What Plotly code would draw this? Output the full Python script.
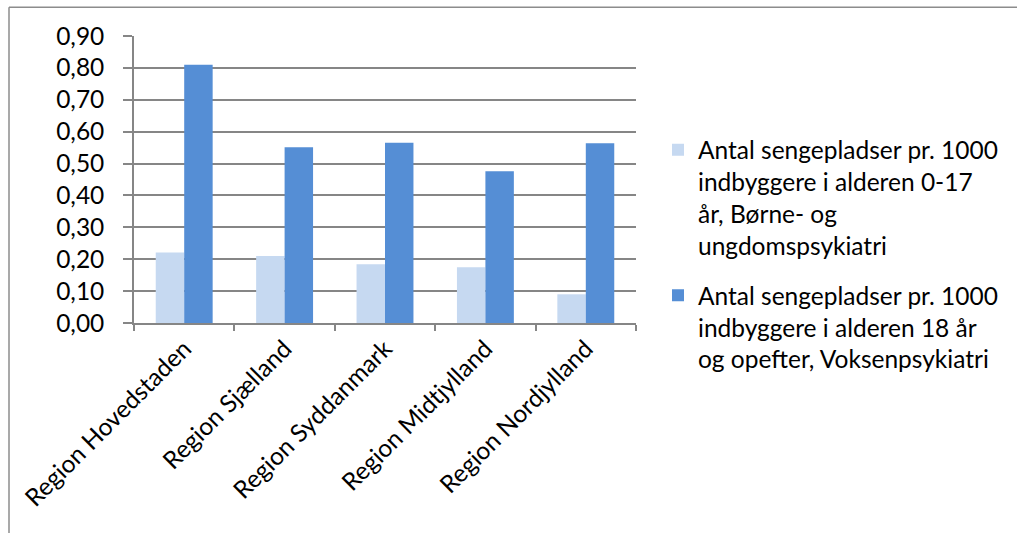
import plotly.graph_objects as go

categories = ["Region Hovedstaden", "Region Sjælland", "Region Syddanmark",
              "Region Midtjylland", "Region Nordjylland"]
born_values = [0.221, 0.210, 0.184, 0.175, 0.090]
voksen_values = [0.810, 0.551, 0.565, 0.476, 0.564]
series_names = [
    "Antal sengepladser pr. 1000<br>indbyggere i alderen 0-17<br>år, Børne- og<br>ungdomspsykiatri",
    "Antal sengepladser pr. 1000<br>indbyggere i alderen 18 år<br>og opefter, Voksenpsykiatri",
]
y_ticks = [0.0, 0.1, 0.2, 0.3, 0.4, 0.5, 0.6, 0.7, 0.8, 0.9]

LIGHT = "#C6D9F1"
DARK = "#558ED5"
GRID = "#868686"
FONT = "Lato"
FS = 24.5

fig = go.Figure()
fig.add_trace(go.Bar(x=categories, y=born_values, name=series_names[0],
                     marker=dict(color=LIGHT, line=dict(width=0)), legendgroup="a"))
fig.add_trace(go.Bar(x=categories, y=voksen_values, name=series_names[1],
                     marker=dict(color=DARK, line=dict(width=0)), legendgroup="b"))

W, H = 1017, 533
L, R, T, B = 134, 636, 36.3, 322.7
pw, ph = R - L, B - T

def px(xp):
    return (xp - L) / pw

def py(yp):
    return (B - yp) / ph

fig.update_layout(
    width=W, height=H,
    margin=dict(l=L, r=W - R, t=T, b=H - B),
    paper_bgcolor="white", plot_bgcolor="white",
    separators=", ",
    barmode="group", bargap=0.433, bargroupgap=0,
    font=dict(family=FONT, size=FS, color="#000000"),
    legend=dict(x=px(658), y=py(127.5), xanchor="left", yanchor="top", valign="top",
                font=dict(size=FS, family=FONT), tracegroupgap=15,
                itemsizing="constant", bgcolor="rgba(0,0,0,0)"),
    showlegend=True,
    xaxis=dict(type="category", showgrid=False, showline=True, linecolor=GRID, linewidth=1.5,
               ticks="outside", tickson="boundaries", ticklen=6, tickcolor=GRID, tickwidth=1.5,
               tickangle=-45, tickfont=dict(size=FS, family=FONT)),
    yaxis=dict(range=[0, 0.9], tickvals=y_ticks, tickformat=".2f", showgrid=True,
               gridcolor=GRID, gridwidth=1.5, showline=True, linecolor=GRID, linewidth=1.5,
               zeroline=False, ticks="outside", ticklen=9, tickcolor=GRID, tickwidth=1.5,
               ticklabelstandoff=14, tickfont=dict(size=FS, family=FONT)),
    shapes=[
        dict(type="line", xref="paper", yref="paper", x0=px(9), x1=px(1030), y0=py(7.5), y1=py(7.5),
             line=dict(color="#8C8C8C", width=1.5)),
        dict(type="line", xref="paper", yref="paper", x0=px(9), x1=px(9), y0=py(7.5), y1=py(560),
             line=dict(color="#8C8C8C", width=1.5)),
    ],
)

fig.write_html("out.html")
